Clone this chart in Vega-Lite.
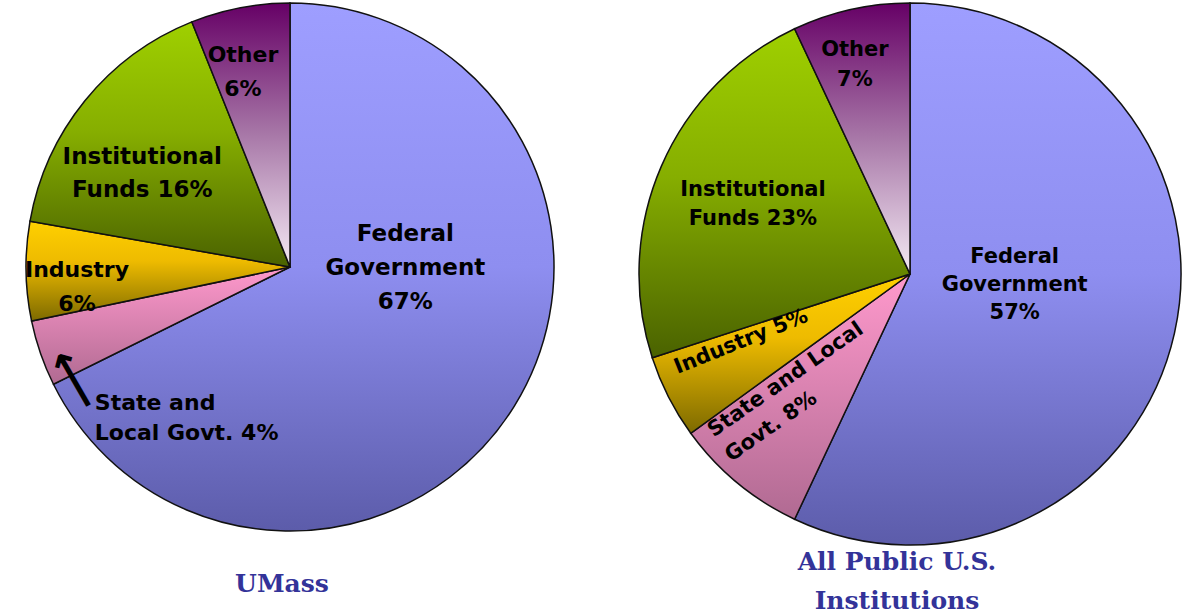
{
  "$schema": "https://vega.github.io/schema/vega-lite/v6.json",
  "padding": 0,
  "spacing": 50,
  "background": "white",
  "config": {"view": {"stroke": null}},
  "hconcat": [
    {
      "width": 580,
      "height": 530,
      "data": {"values": [
        {"cat": "Federal", "label": "Federal\nGovernment\n67%", "value": 67, "order": 1},
        {"cat": "State", "label": "State and\nLocal Govt. 4%", "value": 4, "order": 2},
        {"cat": "Industry", "label": "Industry\n6%", "value": 6, "order": 3},
        {"cat": "Institutional", "label": "Institutional\nFunds 16%", "value": 16, "order": 4},
        {"cat": "Other", "label": "Other\n6%", "value": 6, "order": 5}
      ]},
      "title": {"text": "UMass", "orient": "bottom", "offset": 38, "dx": -8, "baseline": "top", "font": "DejaVu Serif", "fontSize": 25, "fontWeight": "bold", "color": "#333399"},
      "encoding": {
        "theta": {"field": "value", "type": "quantitative", "stack": true},
        "order": {"field": "order", "type": "quantitative"}
      },
      "layer": [
        {
          "mark": {"type": "arc", "outerRadius": 264, "stroke": "#111111", "strokeWidth": 1.5},
          "encoding": {
            "fill": {
              "condition": [
                {"test": "datum.cat === 'Federal'", "value": {"gradient": "linear", "x1": 0, "y1": 0, "x2": 0, "y2": 1, "stops": [{"offset": 0, "color": "#9e9eff"}, {"offset": 0.5, "color": "#8e8ef0"}, {"offset": 1, "color": "#5c5caa"}]}},
                {"test": "datum.cat === 'State'", "value": {"gradient": "linear", "x1": 0, "y1": 0, "x2": 0, "y2": 1, "stops": [{"offset": 0, "color": "#ff99cc"}, {"offset": 1, "color": "#b06a92"}]}},
                {"test": "datum.cat === 'Industry'", "value": {"gradient": "linear", "x1": 0, "y1": 0, "x2": 0, "y2": 1, "stops": [{"offset": 0, "color": "#ffd000"}, {"offset": 0.4, "color": "#eebb00"}, {"offset": 1, "color": "#7d6a00"}]}},
                {"test": "datum.cat === 'Institutional'", "value": {"gradient": "linear", "x1": 0, "y1": 0, "x2": 0, "y2": 1, "stops": [{"offset": 0, "color": "#9fd000"}, {"offset": 0.45, "color": "#86ae00"}, {"offset": 1, "color": "#4a6200"}]}},
                {"test": "datum.cat === 'Other'", "value": {"gradient": "linear", "x1": 0, "y1": 0, "x2": 0, "y2": 1, "stops": [{"offset": 0, "color": "#660066"}, {"offset": 0.5, "color": "#a878a8"}, {"offset": 1, "color": "#f4eaf4"}]}}
              ],
              "value": "#999999"
            }
          }
        },
        {
          "mark": {"type": "text", "radius": 120, "thetaOffset": -0.834, "font": "DejaVu Sans", "fontSize": 23, "fontWeight": "bold", "lineBreak": "\n", "lineHeight": 34, "baseline": "middle", "color": "#000000"},
          "encoding": {"text": {"condition": {"test": "datum.cat === 'Federal'", "field": "label"}, "value": ""}}
        },
        {
          "mark": {"type": "text", "radius": 213, "thetaOffset": 0.0, "font": "DejaVu Sans", "fontSize": 22, "fontWeight": "bold", "lineBreak": "\n", "lineHeight": 34, "baseline": "middle", "color": "#000000"},
          "encoding": {"text": {"condition": {"test": "datum.cat === 'Industry'", "field": "label"}, "value": ""}}
        },
        {
          "mark": {"type": "text", "radius": 184, "thetaOffset": -0.044, "font": "DejaVu Sans", "fontSize": 23, "fontWeight": "bold", "lineBreak": "\n", "lineHeight": 33, "baseline": "middle", "color": "#000000"},
          "encoding": {"text": {"condition": {"test": "datum.cat === 'Institutional'", "field": "label"}, "value": ""}}
        },
        {
          "mark": {"type": "text", "radius": 217, "thetaOffset": -0.028, "font": "DejaVu Sans", "fontSize": 22, "fontWeight": "bold", "lineBreak": "\n", "lineHeight": 34, "baseline": "middle", "color": "#000000"},
          "encoding": {"text": {"condition": {"test": "datum.cat === 'Other'", "field": "label"}, "value": ""}}
        },
        {
          "mark": {"type": "text", "radius": 238, "thetaOffset": -0.276, "align": "left", "font": "DejaVu Sans", "fontSize": 22, "fontWeight": "bold", "lineBreak": "\n", "lineHeight": 30, "baseline": "middle", "color": "#000000"},
          "encoding": {"text": {"condition": {"test": "datum.cat === 'State'", "field": "label"}, "value": ""}}
        },
        {
          "mark": {"type": "text", "radius": 243, "thetaOffset": -0.15, "angle": 240, "font": "DejaVu Sans", "fontSize": 44, "fontWeight": "bold", "baseline": "middle", "color": "#000000"},
          "encoding": {"text": {"condition": {"test": "datum.cat === 'State'", "value": "⟶"}, "value": ""}}
        }
      ]
    },
    {
      "width": 560,
      "height": 544,
      "data": {"values": [
        {"cat": "Federal", "label": "Federal\nGovernment\n57%", "value": 57, "order": 1},
        {"cat": "State", "label": "State and Local\nGovt. 8%", "value": 8, "order": 2},
        {"cat": "Industry", "label": "Industry 5%", "value": 5, "order": 3},
        {"cat": "Institutional", "label": "Institutional\nFunds 23%", "value": 23, "order": 4},
        {"cat": "Other", "label": "Other\n7%", "value": 7, "order": 5}
      ]},
      "title": {"text": ["All Public U.S.", "Institutions"], "orient": "bottom", "offset": 2, "dx": -13, "baseline": "top", "lineHeight": 39, "font": "DejaVu Serif", "fontSize": 25, "fontWeight": "bold", "color": "#333399"},
      "encoding": {
        "theta": {"field": "value", "type": "quantitative", "stack": true},
        "order": {"field": "order", "type": "quantitative"}
      },
      "layer": [
        {
          "mark": {"type": "arc", "outerRadius": 271, "stroke": "#111111", "strokeWidth": 1.5},
          "encoding": {
            "fill": {
              "condition": [
                {"test": "datum.cat === 'Federal'", "value": {"gradient": "linear", "x1": 0, "y1": 0, "x2": 0, "y2": 1, "stops": [{"offset": 0, "color": "#9e9eff"}, {"offset": 0.5, "color": "#8e8ef0"}, {"offset": 1, "color": "#5c5caa"}]}},
                {"test": "datum.cat === 'State'", "value": {"gradient": "linear", "x1": 0, "y1": 0, "x2": 0, "y2": 1, "stops": [{"offset": 0, "color": "#ff99cc"}, {"offset": 1, "color": "#b06a92"}]}},
                {"test": "datum.cat === 'Industry'", "value": {"gradient": "linear", "x1": 0, "y1": 0, "x2": 0, "y2": 1, "stops": [{"offset": 0, "color": "#ffd000"}, {"offset": 0.4, "color": "#eebb00"}, {"offset": 1, "color": "#7d6a00"}]}},
                {"test": "datum.cat === 'Institutional'", "value": {"gradient": "linear", "x1": 0, "y1": 0, "x2": 0, "y2": 1, "stops": [{"offset": 0, "color": "#9fd000"}, {"offset": 0.45, "color": "#86ae00"}, {"offset": 1, "color": "#4a6200"}]}},
                {"test": "datum.cat === 'Other'", "value": {"gradient": "linear", "x1": 0, "y1": 0, "x2": 0, "y2": 1, "stops": [{"offset": 0, "color": "#660066"}, {"offset": 0.5, "color": "#a878a8"}, {"offset": 1, "color": "#f4eaf4"}]}}
              ],
              "value": "#999999"
            }
          }
        },
        {
          "mark": {"type": "text", "radius": 106, "thetaOffset": -0.38, "font": "DejaVu Sans", "fontSize": 21, "fontWeight": "bold", "lineBreak": "\n", "lineHeight": 28, "baseline": "middle", "color": "#000000"},
          "encoding": {"text": {"condition": {"test": "datum.cat === 'Federal'", "field": "label"}, "value": ""}}
        },
        {
          "mark": {"type": "text", "radius": 178, "thetaOffset": 0.082, "font": "DejaVu Sans", "fontSize": 21, "fontWeight": "bold", "lineBreak": "\n", "lineHeight": 29, "baseline": "middle", "color": "#000000"},
          "encoding": {"text": {"condition": {"test": "datum.cat === 'Institutional'", "field": "label"}, "value": ""}}
        },
        {
          "mark": {"type": "text", "radius": 231, "thetaOffset": -0.021, "font": "DejaVu Sans", "fontSize": 21, "fontWeight": "bold", "lineBreak": "\n", "lineHeight": 30, "baseline": "middle", "color": "#000000"},
          "encoding": {"text": {"condition": {"test": "datum.cat === 'Other'", "field": "label"}, "value": ""}}
        },
        {
          "mark": {"type": "text", "radius": 182, "thetaOffset": 0.089, "angle": 338, "font": "DejaVu Sans", "fontSize": 21, "fontWeight": "bold", "baseline": "middle", "color": "#000000"},
          "encoding": {"text": {"condition": {"test": "datum.cat === 'Industry'", "field": "label"}, "value": ""}}
        },
        {
          "mark": {"type": "text", "radius": 255, "thetaOffset": 0.208, "angle": 325, "align": "left", "font": "DejaVu Sans", "fontSize": 21, "fontWeight": "bold", "lineBreak": "\n", "lineHeight": 30, "baseline": "middle", "color": "#000000"},
          "encoding": {"text": {"condition": {"test": "datum.cat === 'State'", "field": "label"}, "value": ""}}
        }
      ]
    }
  ]
}
